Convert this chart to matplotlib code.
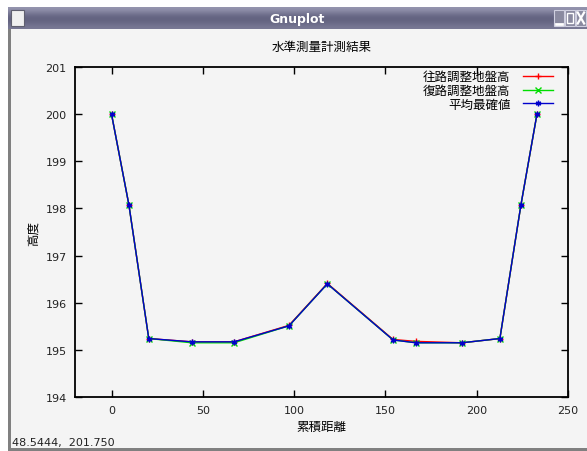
import numpy as np
import matplotlib
matplotlib.use("Agg")
import matplotlib.pyplot as plt
from matplotlib.patches import Rectangle
from matplotlib.colors import LinearSegmentedColormap

plt.rcParams['font.family'] = ['Noto Sans CJK JP', 'DejaVu Sans']

# cumulative distance of each survey point
dist = [0, 9.5, 20.4, 44.0, 67.1, 97.2, 118.2, 154.2, 166.7, 191.9, 212.7, 224.2, 233.0]
# adjusted ground heights, outbound / return run, and the most probable value
h_out = [200.00, 198.08, 195.24, 195.17, 195.17, 195.52, 196.41, 195.22, 195.18, 195.15, 195.24, 198.07, 200.00]
h_ret = [200.00, 198.08, 195.24, 195.15, 195.15, 195.51, 196.40, 195.21, 195.15, 195.15, 195.24, 198.07, 200.00]
h_avg = [200.00, 198.08, 195.24, 195.17, 195.17, 195.51, 196.40, 195.21, 195.15, 195.15, 195.24, 198.07, 200.00]

labels = ['往路調整地盤高', '復路調整地盤高', '平均最確値']
colors = ['#ff0000', '#00dd00', '#0000cc']
markers = ['+', 'x', (6, 2, 0)]

W, H = 587, 452
fig = plt.figure(figsize=(W / 100, H / 100), dpi=100, facecolor='white')

# window frame and client area (behind everything)
for rect, fc in [((8 / W, 0, 1, 1 - 30 / H), '#f4f4f4'),
                 ((8 / W, 0, 3 / W, 1 - 30 / H), '#808080'),
                 ((8 / W, 0, 1, 3 / H), '#808080')]:
    x0, y0, w, h = rect
    fig.patches.append(Rectangle((x0, y0), w, h, transform=fig.transFigure,
                                 facecolor=fc, edgecolor='none', zorder=-5))

# title bar with a vertical gradient
bar = fig.add_axes([8 / W, 1 - 30 / H, 1 - 8 / W, 22 / H])
grad = np.array([[0.75], [0.55], [0.35], [0.3], [0.38], [0.5]])
bar.imshow(grad, aspect='auto', cmap=LinearSegmentedColormap.from_list('tb', ['#404060', '#b0b0c8']),
           vmin=0, vmax=1, interpolation='bicubic', extent=[0, 1, 0, 1])
bar.set_xlim(0, 1)
bar.set_ylim(0, 1)
bar.axis('off')
bar.text(0.5, 0.5, 'Gnuplot', color='white', fontweight='bold', fontsize=9,
         ha='center', va='center', family='DejaVu Sans')
bar.add_patch(Rectangle((0.006, 0.15), 0.022, 0.7, facecolor='#f0f0f0', edgecolor='#606070', lw=0.8))
for x0 in [0.943, 0.962, 0.981]:
    bar.add_patch(Rectangle((x0, 0.12), 0.017, 0.76, facecolor='#8a8aa0', edgecolor='#d0d0e0', lw=0.8))
bar.plot([0.947, 0.956], [0.25, 0.25], color='white', lw=2)
bar.add_patch(Rectangle((0.965, 0.28), 0.011, 0.45, facecolor='none', edgecolor='white', lw=1.0))
bar.plot([0.984, 0.995], [0.25, 0.75], color='white', lw=1.6)
bar.plot([0.984, 0.995], [0.75, 0.25], color='white', lw=1.6)

ax = fig.add_axes([75 / W, 1 - 398 / H, (568 - 75) / W, (398 - 68) / H])
ax.set_facecolor('#f4f4f4')

for y, lab, c, m in zip([h_out, h_ret, h_avg], labels, colors, markers):
    ax.plot(dist, y, color=c, marker=m, markersize=4, markeredgewidth=1.0, lw=1.0, label=lab)

ax.set_xlim(-20, 250)
ax.set_ylim(194, 201)
ax.set_xticks([0, 50, 100, 150, 200, 250])
ax.set_yticks(range(194, 202))
ax.tick_params(direction='in', top=True, right=True, length=5, width=1.0,
               labelsize=8, colors='black', labelcolor='#222222', pad=6)
for lbl in ax.get_xticklabels() + ax.get_yticklabels():
    lbl.set_family('DejaVu Sans')
for s in ax.spines.values():
    s.set_linewidth(1.3)

ax.set_title('水準測量計測結果', fontsize=9, pad=12)
ax.set_xlabel('累積距離', fontsize=9, labelpad=3)
ax.set_ylabel('高度', fontsize=9, labelpad=4)

leg = ax.legend(loc='upper right', frameon=False, fontsize=9, markerfirst=False,
                handlelength=2.4, handletextpad=1.0, labelspacing=0.05,
                borderaxespad=0.0, bbox_to_anchor=(0.98, 1.005))

fig.text(12 / W, 1 - 443 / H, '48.5444,  201.750', fontsize=8, family='DejaVu Sans',
         color='#222222', va='center')

fig.savefig('out.png', dpi=100, facecolor=fig.get_facecolor())
